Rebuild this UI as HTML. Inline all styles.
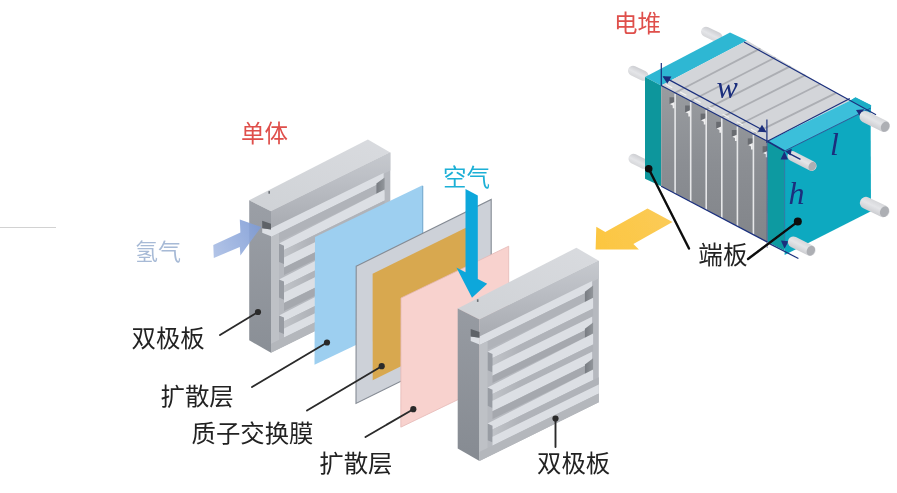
<!DOCTYPE html>
<html><head><meta charset="utf-8"><title>Fuel cell stack</title>
<style>
html,body{margin:0;padding:0;background:#fff;font-family:"Liberation Sans",sans-serif;}
svg{display:block}
</style></head>
<body>
<svg role="img" aria-label="Fuel cell stack and single cell exploded diagram" width="897" height="493" viewBox="0 0 897 493">
<rect width="897" height="493" fill="#ffffff"/>
<filter id="soft" x="-2%" y="-2%" width="104%" height="104%"><feGaussianBlur stdDeviation="0.55"/></filter>
<g filter="url(#soft)">

<defs>
<linearGradient id="gTop" x1="0" y1="1" x2="1" y2="0"><stop offset="0" stop-color="#cfd2d6"/><stop offset="1" stop-color="#d9dbdf"/></linearGradient>
<linearGradient id="gSide" x1="0" y1="0" x2="0" y2="1"><stop offset="0" stop-color="#8f949b"/><stop offset="1" stop-color="#7c8188"/></linearGradient>
<linearGradient id="gFront" x1="0" y1="0" x2="0" y2="1"><stop offset="0" stop-color="#bdc0c6"/><stop offset="1" stop-color="#b2b5bb"/></linearGradient>
<linearGradient id="gBar" x1="0" y1="0" x2="0" y2="1" gradientUnits="objectBoundingBox"><stop offset="0" stop-color="#c6c9ce"/><stop offset="0.35" stop-color="#bcbfc5"/><stop offset="1" stop-color="#a8abb1"/></linearGradient>
<linearGradient id="gRec" x1="0" y1="0" x2="1" y2="0"><stop offset="0" stop-color="#787c82"/><stop offset="1" stop-color="#92969b"/></linearGradient>
<linearGradient id="gCell" x1="0" y1="0" x2="0" y2="1"><stop offset="0" stop-color="#999ca0"/><stop offset="0.5" stop-color="#8b8e93"/><stop offset="1" stop-color="#82858a"/></linearGradient>
<linearGradient id="gH2" gradientUnits="userSpaceOnUse" x1="213" y1="252" x2="261" y2="228"><stop offset="0" stop-color="#a9bde4"/><stop offset="1" stop-color="#7f9cd6"/></linearGradient>
<linearGradient id="gYel" gradientUnits="userSpaceOnUse" x1="672" y1="215" x2="596" y2="248"><stop offset="0" stop-color="#fbcb58"/><stop offset="1" stop-color="#fcc640"/></linearGradient>
<linearGradient id="gRod" x1="0" y1="0" x2="0" y2="1"><stop offset="0" stop-color="#d6d7da"/><stop offset="0.45" stop-color="#e4e5e8"/><stop offset="1" stop-color="#cdced2"/></linearGradient>
</defs>
<rect x="0" y="227" width="56" height="1" fill="#d2d2d2"/>
<defs><linearGradient id="plDe" gradientUnits="userSpaceOnUse" x1="284.0" y1="0" x2="311.0" y2="0"><stop offset="0" stop-color="#c0c3c8"/><stop offset="1" stop-color="#b0b3b9"/></linearGradient><linearGradient id="plSd" gradientUnits="userSpaceOnUse" x1="0" y1="200.3" x2="0" y2="352.3"><stop offset="0" stop-color="#9b9fa6"/><stop offset="1" stop-color="#8a8f96"/></linearGradient></defs>
<polygon points="271.0,211.3 390.3,152.6 367.9,139.5 249.2,200.2" fill="url(#gTop)" />
<polygon points="271.0,211.3 249.2,200.2 249.2,340.2 271.0,352.8" fill="url(#plSd)" />
<polygon points="271.0,211.3 390.3,152.6 390.3,294.1 271.0,352.8" fill="#b6b9bf" />
<polygon points="271.0,211.3 390.3,152.6 390.3,170.4 271.0,229.1" fill="url(#gBar)" />
<polygon points="271.0,228.3 383.6,172.9 383.6,181.5 271.0,236.9" fill="#dcdfe4" />
<polygon points="271.0,229.5 262.2,228.3 262.2,232.8 271.0,236.3" fill="#dcdfe4" />
<polygon points="279.0,233.0 376.4,185.0 376.4,193.6 279.0,241.6" fill="#b0b3b9" />
<polygon points="376.4,183.6 384.6,177.4 384.6,191.2 376.4,195.2" fill="url(#gRec)" />
<polygon points="279.0,243.6 384.6,189.6 384.6,200.4 284.0,249.9" fill="#dcdfe4" />
<polygon points="284.0,249.9 384.6,200.4 384.6,208.0 284.0,257.5" fill="url(#plDe)" />
<polygon points="279.0,243.6 284.0,245.7 284.0,264.1 279.0,262.0" fill="#989ca3" />
<polygon points="284.0,257.5 383.6,208.5 383.6,218.5 284.0,267.5" fill="#dcdfe4" />
<polygon points="284.0,267.5 376.4,222.0 376.4,229.4 284.0,274.9" fill="#a5a8ae" />
<polygon points="376.4,220.6 384.6,214.4 384.6,227.0 376.4,231.0" fill="url(#gRec)" />
<polygon points="279.0,279.4 384.6,225.4 384.6,236.2 284.0,285.7" fill="#dcdfe4" />
<polygon points="284.0,285.7 384.6,236.2 384.6,243.0 284.0,292.5" fill="url(#plDe)" />
<polygon points="279.0,279.4 284.0,281.5 284.0,299.7 279.0,297.6" fill="#989ca3" />
<polygon points="284.0,292.5 383.6,243.5 383.6,254.1 284.0,303.1" fill="#dcdfe4" />
<polygon points="284.0,303.1 376.4,257.6 376.4,265.4 284.0,310.9" fill="#a5a8ae" />
<polygon points="376.4,256.2 384.6,250.0 384.6,263.0 376.4,267.0" fill="url(#gRec)" />
<polygon points="279.0,315.4 384.6,261.4 384.6,271.8 284.0,321.3" fill="#dcdfe4" />
<polygon points="284.0,321.3 390.3,269.0 390.3,276.2 284.0,328.5" fill="url(#plDe)" />
<polygon points="279.0,315.4 284.0,317.5 284.0,334.1 279.0,332.0" fill="#989ca3" />
<polygon points="284.0,328.5 390.3,276.2 390.3,285.2 284.0,337.5" fill="#dcdfe4" />
<polygon points="271.0,236.9 279.0,233.0 279.0,340.0 271.0,343.9" fill="#bec1c6" />
<polygon points="271.0,343.9 390.3,285.2 390.3,294.1 271.0,352.8" fill="#b4b7bc" />
<polygon points="262.2,220.7 271.0,223.8 271.0,229.5 262.2,228.3" fill="#5f6368" />
<rect x="268.4" y="191.1" width="1.6" height="2.6" fill="#6b6f75"/>
<polygon points="213.3,245.0 240.4,232.6 239.8,219.4 261.2,227.0 240.4,255.4 239.8,246.9 213.8,257.9" fill="url(#gH2)" fill-opacity="0.9"/>
<polygon points="315.0,237.0 422.0,185.5 422.0,313.5 314.5,364.7" fill="#9dcff0" />
<polygon points="422.0,185.5 423.3,186.0 423.3,312.0 422.0,313.5" fill="#7fb1d4" />
<polygon points="356.2,266.2 491.2,199.5 491.2,336.7 356.0,403.4" fill="#cdd1d8" stroke="#858b94" stroke-width="1.1"/>
<polygon points="372.6,273.7 475.5,223.0 475.5,329.6 372.7,380.3" fill="#d8a850" />
<polygon points="401.0,298.0 508.7,246.2 508.7,375.2 400.8,427.2" fill="#f8d2ce" />
<polygon points="401.0,298.0 508.7,246.2 508.7,375.2 400.8,427.2" fill="none" stroke="#e4b9b6" stroke-width="0.8"/>
<defs><linearGradient id="prDe" gradientUnits="userSpaceOnUse" x1="492.5" y1="0" x2="519.5" y2="0"><stop offset="0" stop-color="#c0c3c8"/><stop offset="1" stop-color="#b0b3b9"/></linearGradient><linearGradient id="prSd" gradientUnits="userSpaceOnUse" x1="0" y1="308.5" x2="0" y2="460.5"><stop offset="0" stop-color="#979ba2"/><stop offset="1" stop-color="#868b92"/></linearGradient></defs>
<polygon points="479.5,319.5 598.8,260.8 576.4,247.7 457.7,308.4" fill="url(#gTop)" />
<polygon points="479.5,319.5 457.7,308.4 457.7,448.4 479.5,461.0" fill="url(#prSd)" />
<polygon points="479.5,319.5 598.8,260.8 598.8,402.3 479.5,461.0" fill="#b6b9bf" />
<polygon points="479.5,319.5 598.8,260.8 598.8,278.6 479.5,337.3" fill="url(#gBar)" />
<polygon points="479.5,336.5 592.1,281.1 592.1,289.7 479.5,345.1" fill="#dcdfe4" />
<polygon points="479.5,337.7 470.7,336.5 470.7,341.0 479.5,344.5" fill="#dcdfe4" />
<polygon points="487.5,341.2 584.9,293.2 584.9,301.8 487.5,349.8" fill="#b0b3b9" />
<polygon points="584.9,291.8 593.1,285.6 593.1,299.4 584.9,303.4" fill="url(#gRec)" />
<polygon points="487.5,351.8 593.1,297.8 593.1,308.6 492.5,358.1" fill="#dcdfe4" />
<polygon points="492.5,358.1 593.1,308.6 593.1,316.2 492.5,365.7" fill="url(#prDe)" />
<polygon points="487.5,351.8 492.5,353.9 492.5,372.3 487.5,370.2" fill="#989ca3" />
<polygon points="492.5,365.7 592.1,316.7 592.1,326.7 492.5,375.7" fill="#dcdfe4" />
<polygon points="492.5,375.7 584.9,330.2 584.9,337.6 492.5,383.1" fill="#a5a8ae" />
<polygon points="584.9,328.8 593.1,322.6 593.1,335.2 584.9,339.2" fill="url(#gRec)" />
<polygon points="487.5,387.6 593.1,333.6 593.1,344.4 492.5,393.9" fill="#dcdfe4" />
<polygon points="492.5,393.9 593.1,344.4 593.1,351.2 492.5,400.7" fill="url(#prDe)" />
<polygon points="487.5,387.6 492.5,389.7 492.5,407.9 487.5,405.8" fill="#989ca3" />
<polygon points="492.5,400.7 592.1,351.7 592.1,362.3 492.5,411.3" fill="#dcdfe4" />
<polygon points="492.5,411.3 584.9,365.8 584.9,373.6 492.5,419.1" fill="#a5a8ae" />
<polygon points="584.9,364.4 593.1,358.2 593.1,371.2 584.9,375.2" fill="url(#gRec)" />
<polygon points="487.5,423.6 593.1,369.6 593.1,380.0 492.5,429.5" fill="#dcdfe4" />
<polygon points="492.5,429.5 598.8,377.2 598.8,384.4 492.5,436.7" fill="url(#prDe)" />
<polygon points="487.5,423.6 492.5,425.7 492.5,442.3 487.5,440.2" fill="#989ca3" />
<polygon points="492.5,436.7 598.8,384.4 598.8,393.4 492.5,445.7" fill="#dcdfe4" />
<polygon points="479.5,345.1 487.5,341.2 487.5,448.2 479.5,452.1" fill="#bec1c6" />
<polygon points="479.5,452.1 598.8,393.4 598.8,402.3 479.5,461.0" fill="#b4b7bc" />
<polygon points="470.7,328.9 479.5,332.0 479.5,337.7 470.7,336.5" fill="#5f6368" />
<rect x="476.9" y="299.3" width="1.6" height="2.6" fill="#6b6f75"/>
<polygon points="465.5,189.0 477.8,195.5 477.8,279.0 487.2,283.8 472.0,297.7 456.4,267.5 465.5,272.2" fill="#10a7db" />
<polygon points="647.5,208.4 672.5,222.0 633.4,243.9 638.9,249.4 595.6,249.4 596.3,226.7 605.3,231.9" fill="url(#gYel)" />
<g transform="translate(722.0,39.5) rotate(-154.00)"><rect x="0" y="-5.0" width="22.8" height="10" rx="5.0" fill="url(#gRod)"/><ellipse opacity="0" cx="18.6" cy="0" rx="3.6" ry="4.6" fill="#adafb4"/></g>
<g transform="translate(648.0,78.0) rotate(-154.03)"><rect x="0" y="-5.0" width="21.7" height="10" rx="5.0" fill="url(#gRod)"/><ellipse opacity="0" cx="17.5" cy="0" rx="3.6" ry="4.6" fill="#adafb4"/></g>
<g transform="translate(648.0,166.0) rotate(-153.43)"><rect x="0" y="-5.0" width="21.2" height="10" rx="5.0" fill="url(#gRod)"/><ellipse opacity="0" cx="17.0" cy="0" rx="3.6" ry="4.6" fill="#adafb4"/></g>
<polygon points="645.0,77.0 730.0,32.5 747.0,40.5 661.2,85.5" fill="#2fb7d3" />
<polygon points="645.0,77.0 661.2,85.5 661.2,186.2 645.0,178.7" fill="#0c969c" />
<polygon points="661.2,85.5 747.0,40.5 849.8,100.8 767.4,141.3" fill="#d3d5d9" />
<clipPath id="cTop"><polygon points="661.2,85.5 747,40.5 849.8,100.8 767.4,141.3"/></clipPath><g clip-path="url(#cTop)">
<line x1="675.1" y1="92.8" x2="760.5" y2="48.4" stroke="#acaeb3" stroke-width="1.8"/>
<line x1="690.7" y1="101.0" x2="775.6" y2="57.2" stroke="#acaeb3" stroke-width="1.8"/>
<line x1="706.2" y1="109.1" x2="790.6" y2="66.1" stroke="#acaeb3" stroke-width="1.8"/>
<line x1="721.8" y1="117.3" x2="805.7" y2="74.9" stroke="#acaeb3" stroke-width="1.8"/>
<line x1="737.4" y1="125.5" x2="820.8" y2="83.8" stroke="#acaeb3" stroke-width="1.8"/>
<line x1="753.4" y1="133.9" x2="836.2" y2="92.9" stroke="#acaeb3" stroke-width="1.8"/>
</g>
<polygon points="661.2,85.5 767.5,141.3 767.5,242.1 661.2,186.2" fill="url(#gCell)" />
<line x1="675.1" y1="93.8" x2="675.1" y2="193.6" stroke="#e6e7e9" stroke-width="1.6"/>
<line x1="690.7" y1="102.0" x2="690.7" y2="201.8" stroke="#e6e7e9" stroke-width="1.6"/>
<line x1="706.2" y1="110.1" x2="706.2" y2="209.9" stroke="#e6e7e9" stroke-width="1.6"/>
<line x1="721.8" y1="118.3" x2="721.8" y2="218.1" stroke="#e6e7e9" stroke-width="1.6"/>
<line x1="737.4" y1="126.5" x2="737.4" y2="226.3" stroke="#e6e7e9" stroke-width="1.6"/>
<line x1="753.4" y1="134.9" x2="753.4" y2="234.7" stroke="#e6e7e9" stroke-width="1.6"/>
<rect x="669.5" y="97.3" width="4.6" height="6.6" fill="#696c71"/>
<polygon points="669.9,104.0 674.5,102.0 674.5,108.3 672.7,108.3 672.7,105.4" fill="#eeeeef"/>
<rect x="685.1" y="105.5" width="4.6" height="6.6" fill="#696c71"/>
<polygon points="685.5,112.2 690.1,110.2 690.1,116.5 688.3,116.5 688.3,113.6" fill="#eeeeef"/>
<rect x="700.6" y="113.6" width="4.6" height="6.6" fill="#696c71"/>
<polygon points="701.0,120.3 705.6,118.3 705.6,124.6 703.8,124.6 703.8,121.7" fill="#eeeeef"/>
<rect x="716.2" y="121.8" width="4.6" height="6.6" fill="#696c71"/>
<polygon points="716.6,128.5 721.2,126.5 721.2,132.8 719.4,132.8 719.4,129.9" fill="#eeeeef"/>
<rect x="731.8" y="130.0" width="4.6" height="6.6" fill="#696c71"/>
<polygon points="732.2,136.7 736.8,134.7 736.8,141.0 735.0,141.0 735.0,138.1" fill="#eeeeef"/>
<rect x="747.8" y="138.4" width="4.6" height="6.6" fill="#696c71"/>
<polygon points="748.2,145.1 752.8,143.1 752.8,149.4 751.0,149.4 751.0,146.5" fill="#eeeeef"/>
<rect x="762.6" y="146.2" width="4.6" height="6.6" fill="#696c71"/>
<polygon points="763.0,152.9 767.6,150.9 767.6,157.2 765.8,157.2 765.8,154.3" fill="#eeeeef"/>
<line x1="666" y1="84.5" x2="764" y2="136" stroke="#f4f4f4" stroke-width="1.2" stroke-dasharray="7 9"/>
<polygon points="767.4,141.3 849.8,100.8 855.3,97.6 871.0,105.3 870.6,108.2 784.6,151.0" fill="#3abfda" />
<polygon points="767.4,141.3 784.6,151.0 784.6,250.8 767.6,242.1" fill="#0d9aa1" />
<polygon points="784.6,151.0 870.6,108.2 871.0,211.3 784.6,255.0" fill="#11a9c0" />
<polygon points="850.5,100.6 855.5,97.2 871.2,105.2 870.8,111.5" fill="#1badc6" />
<g stroke="#1a2f7d" stroke-width="1.2" fill="none"><line x1="661.3" y1="63" x2="661.3" y2="86"/><line x1="766.9" y1="119.5" x2="766.9" y2="143"/><line x1="767.2" y1="143" x2="767.2" y2="248" stroke-opacity="0.55" stroke-width="1"/><line x1="663.7" y1="76.9" x2="765.9" y2="131.7"/><line x1="661.2" y1="85.5" x2="767.4" y2="141.3"/><line x1="661.2" y1="186.2" x2="767.5" y2="242.1"/><line x1="744" y1="42" x2="876" y2="114.7"/><line x1="767.4" y1="141.3" x2="849.8" y2="98.5"/><line x1="784.6" y1="158" x2="784.6" y2="247" stroke-opacity="0.45" stroke-width="1"/><line x1="768.9" y1="243.4" x2="798.4" y2="258.5"/><line x1="767.4" y1="141.3" x2="784.6" y2="151.0" stroke-width="1.6"/><line x1="784.6" y1="151.0" x2="870.6" y2="108.2" stroke-width="1" stroke-opacity="0.75"/></g>
<polygon points="662.6,76.2 671.4,76.6 667.3,83.8" fill="#1a2f7d" />
<polygon points="766.6,132.2 757.8,131.8 762.0,124.8" fill="#1a2f7d" />
<polygon points="864.2,109.2 856.0,110.0 860.0,116.2" fill="#1a2f7d" />
<polygon points="784.6,248.8 780.9,240.6 788.5,241.2" fill="#1a2f7d" />
<polygon points="784.4,151.2 780.6,159.6 788.0,159.6" fill="#1a2f7d" />
<g transform="translate(788.0,153.8) rotate(27.22)"><rect x="0" y="-5.0" width="31.5" height="10" rx="5.0" fill="url(#gRod)"/><ellipse cx="27.3" cy="0" rx="3.6" ry="4.6" fill="#adafb4"/></g>
<g transform="translate(860.0,114.2) rotate(26.33)"><rect x="0" y="-5.75" width="32.9" height="11.5" rx="5.75" fill="url(#gRod)"/><ellipse cx="28.1" cy="0" rx="4.1" ry="5.3" fill="#adafb4"/></g>
<g transform="translate(860.5,200.3) rotate(25.35)"><rect x="0" y="-6.0" width="31.5" height="12" rx="6.0" fill="url(#gRod)"/><ellipse cx="26.5" cy="0" rx="4.3" ry="5.5" fill="#adafb4"/></g>
<g transform="translate(788.5,239.5) rotate(26.65)"><rect x="0" y="-5.5" width="29.7" height="11" rx="5.5" fill="url(#gRod)"/><ellipse cx="25.0" cy="0" rx="4.0" ry="5.1" fill="#adafb4"/></g>
<line x1="788" y1="152.8" x2="800.5" y2="159.4" stroke="#1a2f7d" stroke-width="1.4"/>
<polygon points="785.2,151.4 791.8,148.8 790.6,155.6" fill="#1a2f7d" />
<line x1="258" y1="312" x2="220" y2="335" stroke="#2a2a2a" stroke-width="1.9" stroke-linecap="round"/><circle cx="258" cy="312" r="3.1" fill="#2a2a2a"/>
<line x1="327" y1="342.5" x2="252" y2="387" stroke="#2a2a2a" stroke-width="1.9" stroke-linecap="round"/><circle cx="327" cy="342.5" r="3.1" fill="#2a2a2a"/>
<line x1="381.7" y1="366.2" x2="307" y2="410.5" stroke="#2a2a2a" stroke-width="1.9" stroke-linecap="round"/><circle cx="381.7" cy="366.2" r="3.1" fill="#2a2a2a"/>
<line x1="413.3" y1="409.2" x2="365.5" y2="437" stroke="#2a2a2a" stroke-width="1.9" stroke-linecap="round"/><circle cx="413.3" cy="409.2" r="3.1" fill="#2a2a2a"/>
<line x1="555.5" y1="418.5" x2="555.5" y2="447" stroke="#2a2a2a" stroke-width="1.9" stroke-linecap="round"/><circle cx="555.5" cy="418.5" r="3.1" fill="#2a2a2a"/>
<line x1="648.7" y1="168.7" x2="689" y2="248.5" stroke="#0a0a0a" stroke-width="2.4" stroke-linecap="round"/><circle cx="648.7" cy="168.7" r="3.8" fill="#0a0a0a"/>
<line x1="797.8" y1="221.6" x2="748" y2="259" stroke="#0a0a0a" stroke-width="2.4" stroke-linecap="round"/><circle cx="797.8" cy="221.6" r="4" fill="#0a0a0a"/>
<text x="614" y="32" font-size="23.5" fill="#df4f4b" font-family="'Liberation Sans','Noto Sans CJK SC',sans-serif">电堆</text>
<text x="241" y="142.2" font-size="23.5" fill="#df4f4b" font-family="'Liberation Sans','Noto Sans CJK SC',sans-serif">单体</text>
<text x="443" y="186" font-size="23.5" fill="#1fb0d6" font-family="'Liberation Sans','Noto Sans CJK SC',sans-serif">空气</text>
<text x="135" y="260.3" font-size="23" fill="#a7bad6" font-family="'Liberation Sans','Noto Sans CJK SC',sans-serif">氢气</text>
<text x="131.5" y="347" font-size="24.4" fill="#222" font-family="'Liberation Sans','Noto Sans CJK SC',sans-serif">双极板</text>
<text x="160.5" y="405.4" font-size="24.4" fill="#222" font-family="'Liberation Sans','Noto Sans CJK SC',sans-serif">扩散层</text>
<text x="191.5" y="441.8" font-size="24.4" fill="#222" font-family="'Liberation Sans','Noto Sans CJK SC',sans-serif">质子交换膜</text>
<text x="319.3" y="471.6" font-size="24.4" fill="#222" font-family="'Liberation Sans','Noto Sans CJK SC',sans-serif">扩散层</text>
<text x="537" y="472.4" font-size="24.4" fill="#222" font-family="'Liberation Sans','Noto Sans CJK SC',sans-serif">双极板</text>
<text x="698.3" y="263.8" font-size="24.6" fill="#222" font-family="'Liberation Sans','Noto Sans CJK SC',sans-serif">端板</text>
<text x="716.5" y="97.8" font-size="32" font-style="italic" fill="#1a2f7d" font-family="'Liberation Serif',serif">w</text>
<text x="830" y="154.7" font-size="32" font-style="italic" fill="#1a2f7d" font-family="'Liberation Serif',serif">l</text>
<text x="788.6" y="204.1" font-size="32" font-style="italic" fill="#1a2f7d" font-family="'Liberation Serif',serif">h</text>
</g>
</svg>
</body></html>
